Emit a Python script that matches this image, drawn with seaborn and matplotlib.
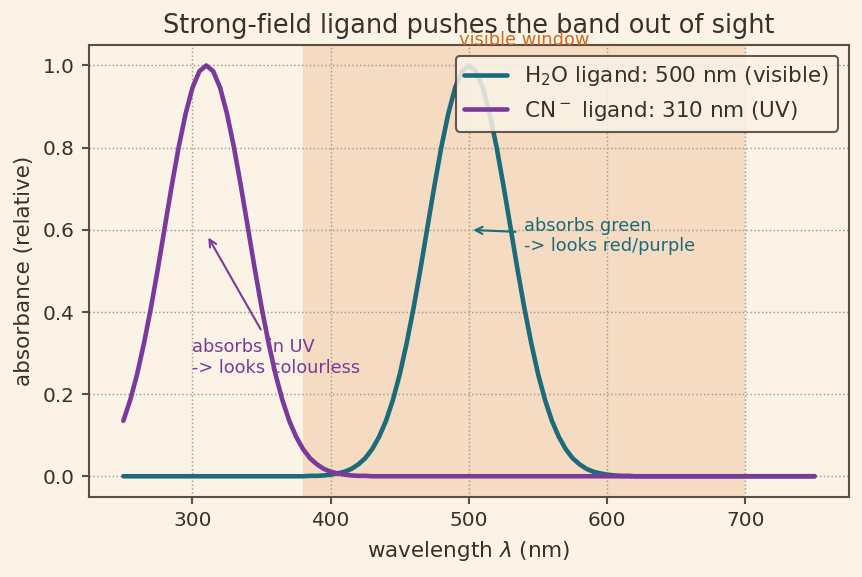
import pandas as pd
import numpy as np
import matplotlib
matplotlib.use('Agg')
import matplotlib.pyplot as plt
import seaborn as sns

# wavelength grid (nm), 5 nm steps, and absorbance
wavelength = list(range(250, 755, 5))
h2o_abs = ([0] * 27 +
           [0.001, 0.001, 0.002, 0.004, 0.007, 0.011, 0.018, 0.029, 0.044, 0.066, 0.096, 0.135,
            0.186, 0.249, 0.325, 0.411, 0.506, 0.607, 0.707, 0.801, 0.882, 0.946, 0.986, 1.0,
            0.986, 0.946, 0.882, 0.801, 0.707, 0.607, 0.506, 0.411, 0.325, 0.249, 0.186, 0.135,
            0.096, 0.066, 0.044, 0.029, 0.018, 0.011, 0.007, 0.004, 0.002, 0.001, 0.001] +
           [0] * 27)
cn_abs = ([0.135, 0.186, 0.249, 0.325, 0.411, 0.506, 0.607, 0.707, 0.801, 0.882, 0.946, 0.986,
           1.0, 0.986, 0.946, 0.882, 0.801, 0.707, 0.607, 0.506, 0.411, 0.325, 0.249, 0.186,
           0.135, 0.096, 0.066, 0.044, 0.029, 0.018, 0.011, 0.007, 0.004, 0.002, 0.001, 0.001] +
          [0] * 65)
labels = ['H$_2$O ligand: 500 nm (visible)', 'CN$^-$ ligand: 310 nm (UV)']
visible = [380, 700]

bg = '#faf3e6'
ink = '#3b3028'
teal = '#1b6b7b'
purple = '#7b3a9a'
orange = '#d2691e'

sns.set_theme(style='ticks')
plt.rcParams['font.family'] = ['DejaVu Sans']
plt.rcParams.update({'figure.facecolor': bg, 'axes.facecolor': bg,
                     'axes.edgecolor': '#5c4e40', 'text.color': ink,
                     'axes.labelcolor': ink, 'xtick.color': '#5c4e40',
                     'ytick.color': '#5c4e40', 'xtick.labelcolor': ink,
                     'ytick.labelcolor': ink})

df = pd.DataFrame({'wavelength': wavelength * 2,
                   'absorbance': h2o_abs + cn_abs,
                   'ligand': [labels[0]] * len(wavelength) + [labels[1]] * len(wavelength)})

fig, ax = plt.subplots(figsize=(5.747, 3.847), dpi=150)
fig.subplots_adjust(left=0.103, right=0.985, top=0.922, bottom=0.139)
ax.axvspan(visible[0], visible[1], color='#eaa570', alpha=0.3, lw=0, zorder=0)
ax.text(540, 1.04, 'visible window', color=orange, fontsize=8.6, ha='center', va='bottom')

sns.lineplot(data=df, x='wavelength', y='absorbance', hue='ligand',
             palette=[teal, purple], linewidth=2.2, ax=ax)

ax.annotate('absorbs green\n-> looks red/purple', xy=(500, 0.6), xytext=(540, 0.585),
            color=teal, fontsize=8.5, ha='left', va='center',
            arrowprops=dict(arrowstyle='->', color=teal, lw=1))
ax.annotate('absorbs in UV\n-> looks colourless', xy=(310, 0.59), xytext=(300, 0.29),
            color=purple, fontsize=8.5, ha='left', va='center',
            arrowprops=dict(arrowstyle='->', color=purple, lw=1))

ax.grid(True, linestyle=':', color='#a89a8a', linewidth=0.7)
ax.set_title('Strong-field ligand pushes the band out of sight', fontsize=12.3, color=ink)
ax.set_xlabel('wavelength $\\lambda$ (nm)', fontsize=10.3)
ax.set_ylabel('absorbance (relative)', fontsize=10.3)
ax.tick_params(labelsize=9.6, length=3.5, width=1, pad=3.5)
leg = ax.legend(loc='upper right', fontsize=10.3, frameon=True, facecolor=bg,
                edgecolor='#4a3f35', framealpha=0.85, title=None)
leg.get_frame().set_linewidth(1)
for s in ax.spines.values():
    s.set_visible(True)
    s.set_linewidth(1.0)

plt.savefig('out.png', dpi=150, facecolor=bg)
